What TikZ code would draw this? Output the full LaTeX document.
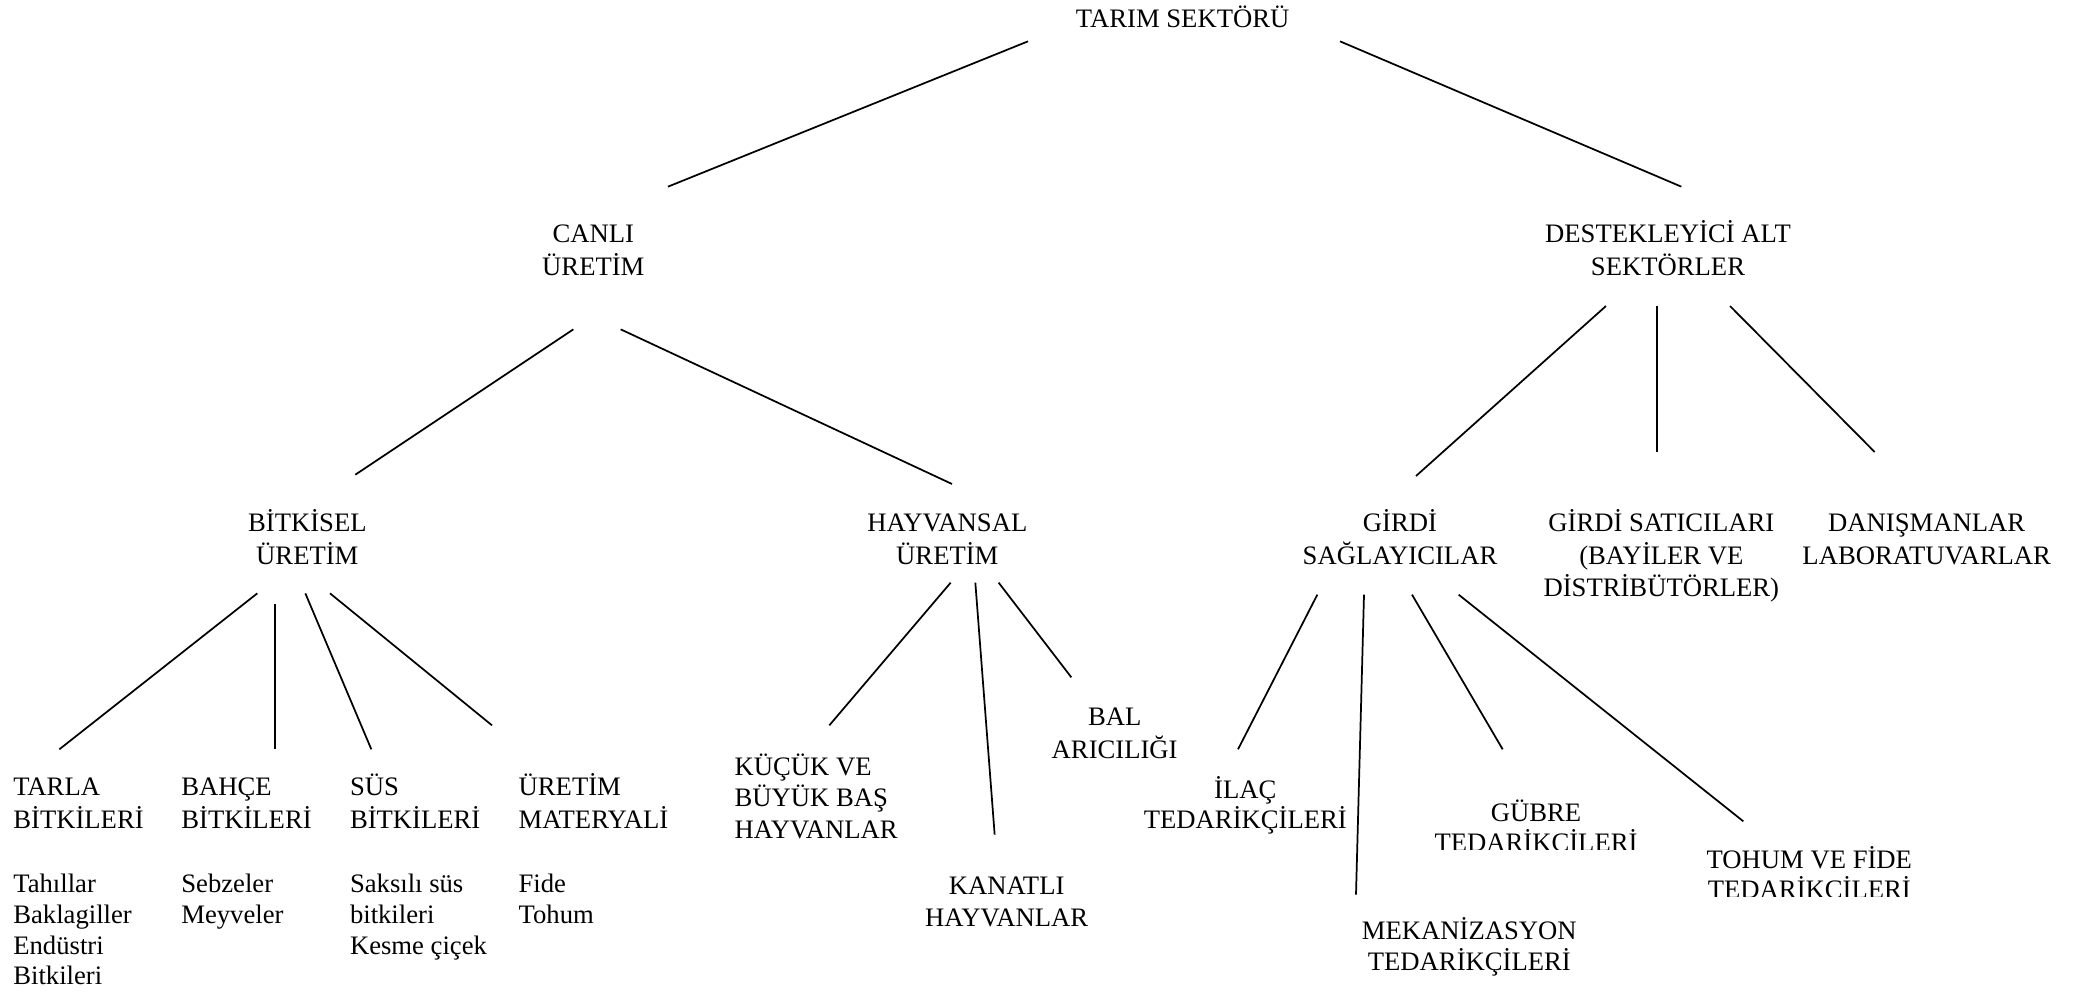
\documentclass[tikz,border=0pt]{standalone}
\usepackage{fontspec}
\setmainfont{Liberation Serif}
\begin{document}
\begin{tikzpicture}[x=1pt,y=-1pt,
  lbl/.style={font=\fontsize{20}{24.5}\selectfont, inner sep=0pt, outer sep=0pt, align=center, anchor=base},
  lbll/.style={lbl, align=left, anchor=base west},
  lst/.style={font=\fontsize{20}{23}\selectfont, inner sep=0pt, outer sep=0pt, align=left, anchor=base west},
  link/.style={line width=1.3pt, line cap=butt}]
\useasboundingbox (0,0) rectangle (1561.5,743.3);

% ---- labels (anchor = baseline of the last line) ----
\node[lbl] (tarim) at (887,20.5) {TARIM SEKTÖRÜ};
\node[lbl] (canli) at (445,206.5) {CANLI\\ÜRETİM};
\node[lbl] (destek) at (1251,206.5) {DESTEKLEYİCİ ALT\\SEKTÖRLER};
\node[lbl] (bitkisel) at (230.5,423.1) {BİTKİSEL\\ÜRETİM};
\node[lbl] (hayvansal) at (710.5,423.1) {HAYVANSAL\\ÜRETİM};
\node[lbl] (girdi) at (1050,423.1) {GİRDİ\\SAĞLAYICILAR};
\node[lbl] (satici) at (1246,447.6) {GİRDİ SATICILARI\\(BAYİLER VE\\DİSTRİBÜTÖRLER)};
\node[lbl] (danis) at (1445,423.1) {DANIŞMANLAR\\LABORATUVARLAR};

\node[lbll] (tarla) at (10,621.1) {TARLA\\BİTKİLERİ};
\node[lbll] (bahce) at (136,621.1) {BAHÇE\\BİTKİLERİ};
\node[lbll] (sus) at (262.5,621.1) {SÜS\\BİTKİLERİ};
\node[lbll] (uretim) at (389,621.1) {ÜRETİM\\MATERYALİ};
\node[lst] (tarla-l) at (10,738.6) {Tahıllar\\Baklagiller\\Endüstri\\Bitkileri};
\node[lst] (bahce-l) at (136,692.6) {Sebzeler\\Meyveler};
\node[lst] (sus-l) at (262.5,715.6) {Saksılı süs\\bitkileri\\Kesme çiçek};
\node[lst] (uretim-l) at (389,692.6) {Fide\\Tohum};

\node[lbll, font=\fontsize{20}{23.5}\selectfont] (kucuk) at (551,628.6) {KÜÇÜK VE\\BÜYÜK BAŞ\\HAYVANLAR};
\node[lbl] (kanatli) at (755,695.1) {KANATLI\\HAYVANLAR};
\node[lbl] (bal) at (836,568.8) {BAL\\ARICILIĞI};

\node[lbl, font=\fontsize{20}{22.5}\selectfont] (ilac) at (934,621.1) {İLAÇ\\TEDARİKÇİLERİ};
\begin{scope}
  \clip (1060,590) rectangle (1240,637);
  \node[lbl, font=\fontsize{20}{23}\selectfont] (gubre) at (1152,638.8) {GÜBRE\\TEDARİKCİLERİ};
\end{scope}
\begin{scope}
  \clip (1270,625) rectangle (1450,672.3);
  \node[lbl, font=\fontsize{20}{23}\selectfont] (tohum) at (1357,674) {TOHUM VE FİDE\\TEDARİKCİLERİ};
\end{scope}
\node[lbl, font=\fontsize{20}{23}\selectfont] (mekan) at (1102,727.6) {MEKANİZASYON\\TEDARİKÇİLERİ};

% ---- connector ends ----
\coordinate (tarim-l) at (771,31);
\coordinate (tarim-r) at (1005,31);
\coordinate (canli-in) at (501,140);
\coordinate (destek-in) at (1261,140);
\coordinate (canli-l) at (430,247);
\coordinate (canli-r) at (465.5,247);
\coordinate (bitkisel-in) at (266.5,356);
\coordinate (hayvansal-in) at (714,363);
\coordinate (destek-a) at (1204.5,229.5);
\coordinate (destek-b) at (1242.5,229.5);
\coordinate (destek-c) at (1297.5,229.5);
\coordinate (girdi-in) at (1062,357);
\coordinate (satici-in) at (1242.5,339);
\coordinate (danis-in) at (1406,339);
\coordinate (bit-a) at (193,445);
\coordinate (bit-b) at (206.5,453);
\coordinate (bit-c) at (229,445);
\coordinate (bit-d) at (247.5,445);
\coordinate (tarla-in) at (44.5,562);
\coordinate (bahce-in) at (206.5,562);
\coordinate (sus-in) at (278.5,562);
\coordinate (uretim-in) at (369,544);
\coordinate (hay-a) at (713,437);
\coordinate (hay-b) at (731.5,437);
\coordinate (hay-c) at (749,437);
\coordinate (kucuk-in) at (622,544);
\coordinate (kanatli-in) at (746,626);
\coordinate (bal-in) at (803.5,508);
\coordinate (gir-a) at (988,446);
\coordinate (gir-b) at (1023,446);
\coordinate (gir-c) at (1059,446);
\coordinate (gir-d) at (1094,446);
\coordinate (ilac-in) at (928.5,562);
\coordinate (mekan-in) at (1017,671);
\coordinate (gubre-in) at (1127,562);
\coordinate (tohum-in) at (1307.5,616);

% ---- connectors ----
\draw[link] (tarim-l) -- (canli-in);
\draw[link] (tarim-r) -- (destek-in);
\draw[link] (canli-l) -- (bitkisel-in);
\draw[link] (canli-r) -- (hayvansal-in);
\draw[link] (destek-a) -- (girdi-in);
\draw[link] (destek-b) -- (satici-in);
\draw[link] (destek-c) -- (danis-in);
\draw[link] (bit-a) -- (tarla-in);
\draw[link] (bit-b) -- (bahce-in);
\draw[link] (bit-c) -- (sus-in);
\draw[link] (bit-d) -- (uretim-in);
\draw[link] (hay-a) -- (kucuk-in);
\draw[link] (hay-b) -- (kanatli-in);
\draw[link] (hay-c) -- (bal-in);
\draw[link] (gir-a) -- (ilac-in);
\draw[link] (gir-b) -- (mekan-in);
\draw[link] (gir-c) -- (gubre-in);
\draw[link] (gir-d) -- (tohum-in);
\end{tikzpicture}
\end{document}
